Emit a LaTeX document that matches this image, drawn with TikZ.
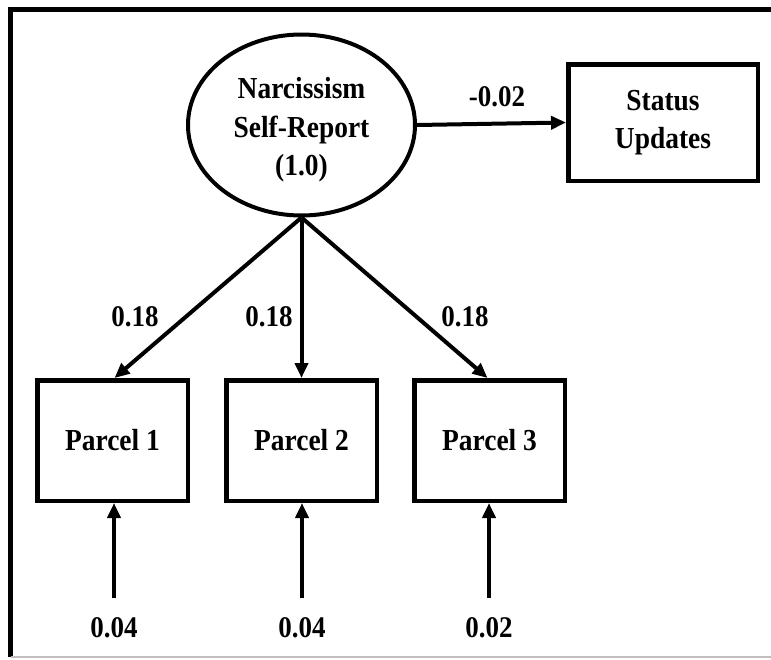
\documentclass[tikz,border=0pt]{standalone}
\usepackage{fontspec}
\setmainfont[FakeStretch=0.9]{Liberation Serif}
\usetikzlibrary{arrows.meta,shapes.geometric}
\begin{document}
\begin{tikzpicture}[x=1pt,y=-1pt,
  txt/.style={font=\fontsize{30.5}{38.5}\selectfont\bfseries, inner sep=0pt, align=center},
  lbl/.style={font=\fontsize{30}{36}\selectfont\bfseries, inner sep=0pt},
  obsbox/.style={draw, line width=4.5pt, inner sep=0pt, txt},
  latent/.style={draw, ellipse, line width=4pt, inner sep=0pt},
  conn/.style={line width=4pt, -{Triangle[length=15pt,width=13pt]}},
]
\useasboundingbox (0,0) rectangle (771,659);
% frame
\coordinate (ftl) at (10.5,9.5);
\coordinate (ftr) at (775,9.5);
\coordinate (fbl) at (10.5,657);
\coordinate (fbr) at (775,657);
\draw[line width=5pt] (ftr) -- (ftl) -- (fbl);
\draw[line width=1.2pt, black!25] (fbl) -- (fbr);

% latent
\node[latent, minimum width=227pt, minimum height=181pt] (lat) at (301.5,125) {};
\node[txt] (lattext) at (301.5,130) {Narcissism\\Self-Report\\(1.0)};

% status updates
\node[obsbox, minimum width=189.5pt, minimum height=116.5pt] (stat) at (663,122.5) {Status\\Updates};

% parcels
\node[obsbox, minimum width=150.5pt, minimum height=120.5pt] (p1) at (112.5,440.5) {Parcel 1};
\node[obsbox, minimum width=150.5pt, minimum height=120.5pt] (p2) at (301.5,440.5) {Parcel 2};
\node[obsbox, minimum width=150.5pt, minimum height=120.5pt] (p3) at (489.5,440.5) {Parcel 3};

% paths
\draw[conn] (lat.east) -- (stat.west);
\node[lbl] (lstat) at (497,97) {-0.02};

\draw[conn] (lat.south) -- ([xshift=2pt]p1.north);
\draw[conn] (lat.south) -- (p2.north);
\draw[conn] (lat.south) -- ([xshift=-2pt]p3.north);
\node[lbl] (l1) at (135,317) {0.18};
\node[lbl] (l2) at (269,317) {0.18};
\node[lbl] (l3) at (465,317) {0.18};

% errors
\coordinate (e1) at (114,598);
\coordinate (e2) at (302,598);
\coordinate (e3) at (489,598);
\draw[conn] (e1) -- (e1 |- p1.south);
\draw[conn] (e2) -- (e2 |- p2.south);
\draw[conn] (e3) -- (e3 |- p3.south);
\node[lbl] (el1) at (114,628) {0.04};
\node[lbl] (el2) at (302,628) {0.04};
\node[lbl] (el3) at (489,628) {0.02};
\end{tikzpicture}
\end{document}
